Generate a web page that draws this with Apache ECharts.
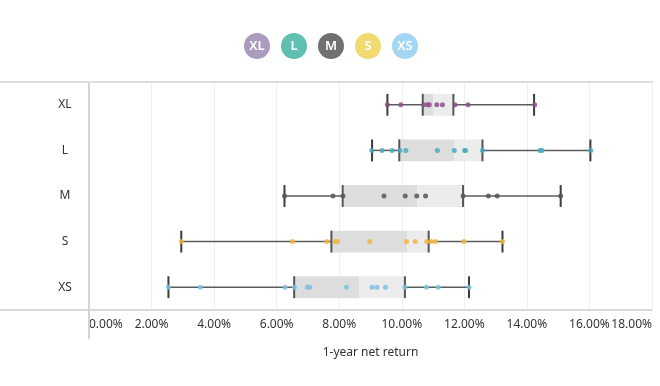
<!DOCTYPE html>
<html>
<head>
<meta charset="utf-8">
<script src="https://cdn.jsdelivr.net/npm/echarts@6/dist/echarts.min.js"></script>
<style>
html,body{margin:0;padding:0;background:#fff;}
#chart{width:660px;height:386px;}
</style>
</head>
<body>
<div id="chart"></div>
<script>
const categories = ['XL', 'L', 'M', 'S', 'XS'];
const boxMin    = [9.54, 9.05, 6.25, 2.95, 2.54];
const boxQ1     = [10.67, 9.92, 8.11, 7.75, 6.56];
const boxMedian = [11.00, 11.69, 10.50, 10.17, 8.65];
const boxQ3     = [11.65, 12.58, 11.96, 10.86, 10.10];
const boxMax    = [14.23, 16.03, 15.08, 13.22, 12.15];

const pointsXL = [9.54, 9.97, 10.70, 10.82, 10.88, 11.12, 11.30, 11.70, 12.12, 14.25];
const pointsL  = [9.04, 9.37, 9.69, 9.94, 10.13, 11.14, 11.68, 12.01, 12.04, 12.58, 14.42, 14.48, 16.04];
const pointsM  = [6.25, 7.80, 8.12, 9.43, 10.11, 10.48, 10.76, 11.96, 12.77, 13.05, 15.08];
const pointsS  = [2.95, 6.51, 7.61, 7.87, 7.95, 8.98, 10.15, 10.43, 10.80, 10.94, 11.08, 11.99, 13.22];
const pointsXS = [2.54, 3.56, 6.27, 6.57, 6.98, 7.06, 8.23, 9.05, 9.21, 9.48, 10.10, 10.79, 11.16, 12.15];
const pointSets = [pointsXL, pointsL, pointsM, pointsS, pointsXS];

const xTickMin = 0, xTickMax = 18, xTickStep = 2;
const xAxisTitle = '1-year net return';

const legendColors = ['#ab9cbf', '#5fc0b1', '#707070', '#f1da70', '#a3d6f2'];
const dotColors    = ['#8d5085', '#4aa9bf', '#575757', '#f0b540', '#7fc0e3'];

const FONT = "'Noto Sans', 'Segoe UI', sans-serif";

const chart = echarts.init(document.getElementById('chart'), null, {renderer: 'canvas'});

const boxData = categories.map((c, i) => [i, boxMin[i], boxQ1[i], boxMedian[i], boxQ3[i], boxMax[i]]);

function renderBox(params, api) {
  const i = api.value(0);
  const pMin = api.coord([api.value(1), i]);
  const pQ1 = api.coord([api.value(2), i]);
  const pMed = api.coord([api.value(3), i]);
  const pQ3 = api.coord([api.value(4), i]);
  const pMax = api.coord([api.value(5), i]);
  const h = api.size([0, 1])[1] * 0.48;
  const y = pMin[1];
  const capStyle = {stroke: '#3c3c3c', lineWidth: 2};
  const edgeStyle = {stroke: '#555555', lineWidth: 2};
  const whiskStyle = {stroke: '#5c5c5c', lineWidth: 1.5};
  return {
    type: 'group',
    children: [
      {type: 'rect', shape: {x: pQ1[0], y: y - h / 2, width: pMed[0] - pQ1[0], height: h}, style: {fill: '#dddddd'}},
      {type: 'rect', shape: {x: pMed[0], y: y - h / 2, width: pQ3[0] - pMed[0], height: h}, style: {fill: '#ececec'}},
      {type: 'line', shape: {x1: pMin[0], y1: y, x2: pQ1[0], y2: y}, style: whiskStyle},
      {type: 'line', shape: {x1: pQ3[0], y1: y, x2: pMax[0], y2: y}, style: whiskStyle},
      {type: 'line', shape: {x1: pMin[0], y1: y - h / 2, x2: pMin[0], y2: y + h / 2}, style: capStyle},
      {type: 'line', shape: {x1: pMax[0], y1: y - h / 2, x2: pMax[0], y2: y + h / 2}, style: capStyle},
      {type: 'line', shape: {x1: pQ1[0], y1: y - h / 2, x2: pQ1[0], y2: y + h / 2}, style: edgeStyle},
      {type: 'line', shape: {x1: pQ3[0], y1: y - h / 2, x2: pQ3[0], y2: y + h / 2}, style: edgeStyle}
    ]
  };
}

const series = [{
  type: 'custom',
  name: 'box',
  renderItem: renderBox,
  encode: {x: [1, 2, 3, 4, 5], y: 0},
  data: boxData,
  z: 2,
  silent: true
}];

categories.forEach((c, i) => {
  series.push({
    type: 'scatter',
    name: c,
    data: pointSets[i].map(v => [v, i]),
    symbolSize: 5,
    itemStyle: {color: dotColors[i], opacity: 0.85},
    z: 5
  });
});

const option = {
  backgroundColor: '#ffffff',
  animation: false,
  textStyle: {fontFamily: FONT},
  legend: {
    top: 28,
    left: 234,
    itemWidth: 0,
    itemHeight: 0,
    itemGap: 6,
    formatter: '{c|{name}}',
    selectedMode: false,
    data: categories.map((c, i) => ({
      name: c,
      itemStyle: {opacity: 0},
      textStyle: {
        rich: {
          c: {
            width: 26, height: 26, lineHeight: 26, align: 'center',
            backgroundColor: legendColors[i], borderRadius: 13,
            color: '#ffffff', fontSize: 13, fontWeight: 600, fontFamily: FONT
          }
        }
      }
    }))
  },
  grid: {left: 89, right: 8, top: 82, bottom: 76},
  xAxis: {
    type: 'value',
    min: xTickMin,
    max: xTickMax,
    interval: xTickStep,
    name: xAxisTitle,
    nameLocation: 'middle',
    nameGap: 37,
    nameTextStyle: {color: '#333333', fontSize: 12, fontFamily: FONT},
    axisLine: {show: true, lineStyle: {color: '#d9d9d9', width: 2}},
    axisTick: {show: false},
    axisLabel: {
      color: '#333333', fontSize: 12, fontFamily: FONT, margin: 9,
      formatter: v => v.toFixed(2) + '%',
      alignMinLabel: 'left', alignMaxLabel: 'right'
    },
    splitLine: {show: true, lineStyle: {color: '#efefef', width: 1}}
  },
  yAxis: {
    type: 'category',
    data: categories,
    inverse: true,
    axisLine: {show: true, lineStyle: {color: '#d4d4d4', width: 2}},
    axisTick: {show: false},
    axisLabel: {color: '#333333', fontSize: 12, fontFamily: FONT, align: 'center', margin: 24},
    splitLine: {show: false}
  },
  graphic: [
    {type: 'line', shape: {x1: 0, y1: 82, x2: 653, y2: 82}, style: {stroke: '#dedede', lineWidth: 2}, z: 10},
    {type: 'line', shape: {x1: 0, y1: 310, x2: 89, y2: 310}, style: {stroke: '#d9d9d9', lineWidth: 2}, z: 10},
    {type: 'line', shape: {x1: 89, y1: 310, x2: 89, y2: 339}, style: {stroke: '#d4d4d4', lineWidth: 2}, z: 10}
  ],
  series: series
};

chart.setOption(option);
</script>
</body>
</html>
